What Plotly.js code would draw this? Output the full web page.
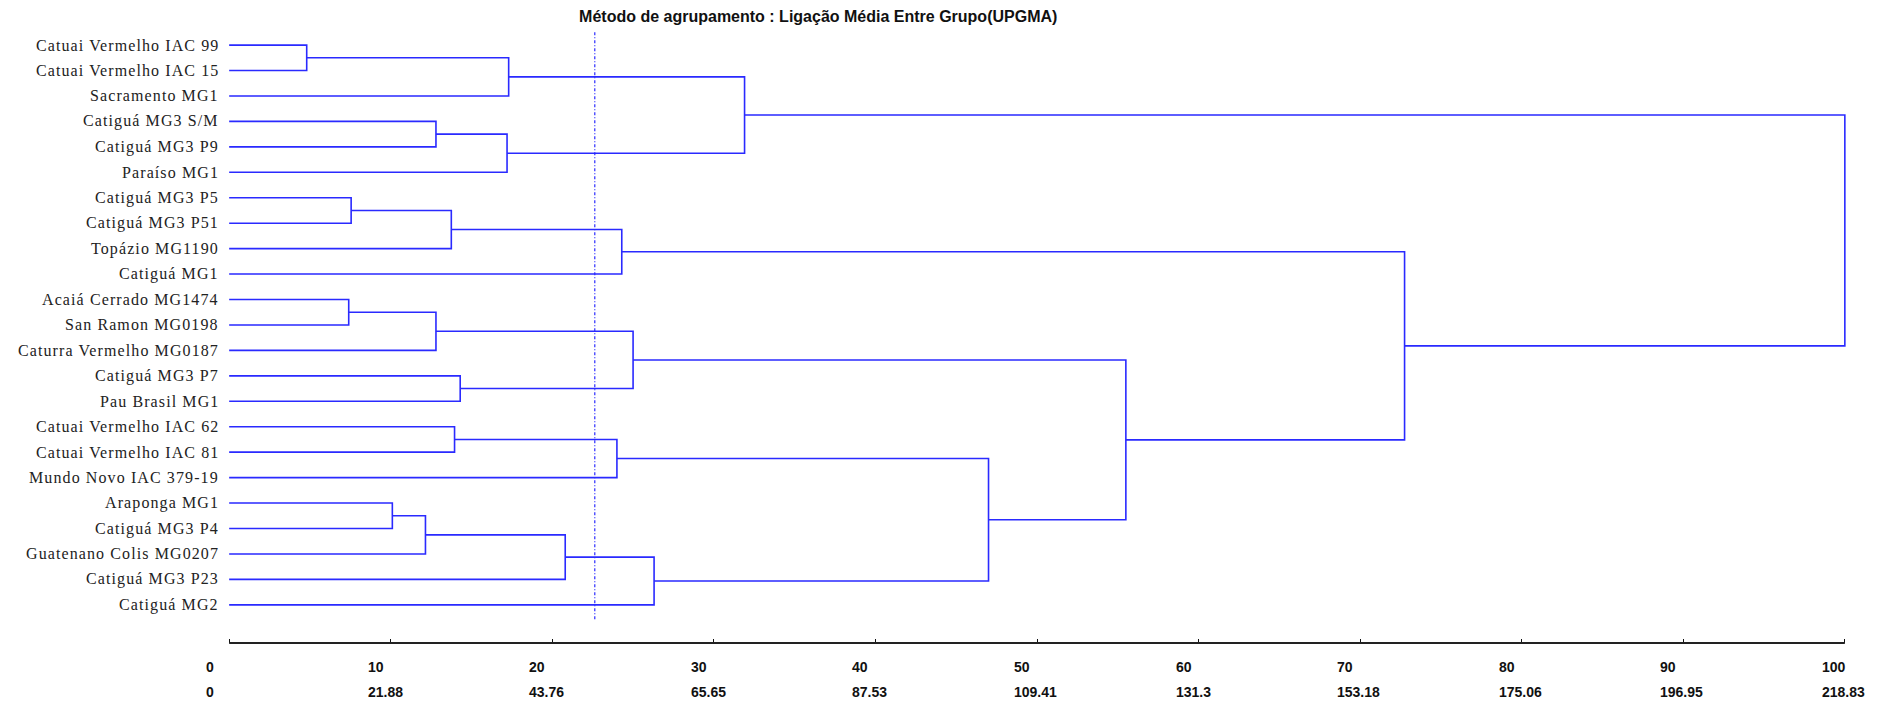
<!DOCTYPE html>
<html>
<head>
<meta charset="utf-8">
<script src="https://cdn.plot.ly/plotly-3.0.1.min.js"></script>
<style>html,body{margin:0;padding:0;background:#fff;}#chart{width:1881px;height:702px;}</style>
</head>
<body>
<div id="chart"></div>
<script>
// Leaf labels, top to bottom
const leafLabels = [
  "Catuai Vermelho IAC 99", "Catuai Vermelho IAC 15", "Sacramento MG1",
  "Catiguá MG3 S/M", "Catiguá MG3 P9", "Paraíso MG1",
  "Catiguá MG3 P5", "Catiguá MG3 P51", "Topázio MG1190", "Catiguá MG1",
  "Acaiá Cerrado MG1474", "San Ramon MG0198", "Caturra Vermelho MG0187",
  "Catiguá MG3 P7", "Pau Brasil MG1",
  "Catuai Vermelho IAC 62", "Catuai Vermelho IAC 81", "Mundo Novo IAC 379-19",
  "Araponga MG1", "Catiguá MG3 P4", "Guatenano Colis MG0207",
  "Catiguá MG3 P23", "Catiguá MG2"
];
// Merges: node ids 0..22 are leaves, merge k creates node 23+k
const mergeLeft   = [0, 23, 3, 25, 24, 6, 28, 29, 10, 31, 13, 32, 15, 35, 18, 37, 38, 39, 36, 34, 30, 27];
const mergeRight  = [1, 2, 4, 5, 26, 7, 8, 9, 11, 12, 14, 33, 16, 17, 19, 20, 21, 22, 40, 41, 42, 43];
const mergeHeight = [4.8, 17.3, 12.8, 17.2, 31.9, 7.55, 13.75, 24.3, 7.4, 12.8, 14.3, 25.0, 13.95, 24.0, 10.1, 12.15, 20.8, 26.3, 47.0, 55.5, 72.75, 100];
// Cut line (dashed)
const cutHeight = 22.63;
// Axis tick labels
const tickVals = [0, 10, 20, 30, 40, 50, 60, 70, 80, 90, 100];
const tickRow1 = ["0", "10", "20", "30", "40", "50", "60", "70", "80", "90", "100"];
const tickRow2 = ["0", "21.88", "43.76", "65.65", "87.53", "109.41", "131.3", "153.18", "175.06", "196.95", "218.83"];
const titleText = "Método de agrupamento : Ligação Média Entre Grupo(UPGMA)";

// compute node positions
const nLeaves = leafLabels.length;
const nodeY = [], nodeH = [];
for (let i = 0; i < nLeaves; i++) { nodeY.push(i); nodeH.push(0); }
const xs = [], ys = [];
for (let k = 0; k < mergeLeft.length; k++) {
  const a = mergeLeft[k], b = mergeRight[k], h = mergeHeight[k];
  xs.push(nodeH[a], h, h, nodeH[b], null);
  ys.push(nodeY[a], nodeY[a], nodeY[b], nodeY[b], null);
  nodeY.push((nodeY[a] + nodeY[b]) / 2);
  nodeH.push(h);
}

const BLUE = "#2a2aff";
const traces = [
  {x: xs, y: ys, type: "scatter", mode: "lines", line: {color: BLUE, width: 1.6}, hoverinfo: "skip", showlegend: false},
  {x: [cutHeight, cutHeight], y: [-0.5, 22.6], type: "scatter", mode: "lines",
   line: {color: BLUE, width: 1.2, dash: "3px,2px,1px,2px"}, hoverinfo: "skip", showlegend: false}
];

const annotations = [];
leafLabels.forEach((t, i) => {
  annotations.push({
    x: 0, y: i, xref: "x", yref: "y", xanchor: "right", yanchor: "middle", xshift: -8,
    text: '<span style="letter-spacing:1.1px">' + t + '</span>', showarrow: false,
    font: {family: "Liberation Serif, Times New Roman, serif", size: 16, color: "#222"}
  });
});
tickVals.forEach((v, i) => {
  annotations.push({
    x: v, y: 0, xref: "x", yref: "paper", xanchor: "left", yanchor: "middle", xshift: -25, yshift: -24,
    text: tickRow1[i], showarrow: false,
    font: {family: "Liberation Sans, Arial, sans-serif", size: 14, color: "#111", weight: "bold"}
  });
  annotations.push({
    x: v, y: 0, xref: "x", yref: "paper", xanchor: "left", yanchor: "middle", xshift: -25, yshift: -49,
    text: tickRow2[i], showarrow: false,
    font: {family: "Liberation Sans, Arial, sans-serif", size: 14, color: "#111", weight: "bold"}
  });
});

const layout = {
  width: 1881, height: 702,
  margin: {l: 213, r: 20, t: 12, b: 59},
  paper_bgcolor: "#fff", plot_bgcolor: "#fff",
  title: {text: titleText, x: 0.435, xanchor: "center", xref: "container", y: 0.976, yanchor: "middle", yref: "container",
          font: {family: "Liberation Sans, Arial, sans-serif", size: 16, color: "#111", weight: "bold"}},
  xaxis: {range: [-1, 101], showgrid: false, zeroline: false, showline: false, showticklabels: false,
          tickmode: "array", tickvals: tickVals, ticks: "inside", ticklen: 4, tickwidth: 1, tickcolor: "#111"},
  yaxis: {range: [23.5, -1.3], showgrid: false, zeroline: false, showline: false, showticklabels: false, ticks: ""},
  shapes: [{type: "line", xref: "x", yref: "paper", x0: tickVals[0], x1: tickVals[tickVals.length - 1], y0: 0, y1: 0,
            line: {color: "#222", width: 2}}],
  annotations: annotations,
  showlegend: false
};
Plotly.newPlot("chart", traces, layout, {displayModeBar: false, staticPlot: true});
</script>
</body>
</html>
